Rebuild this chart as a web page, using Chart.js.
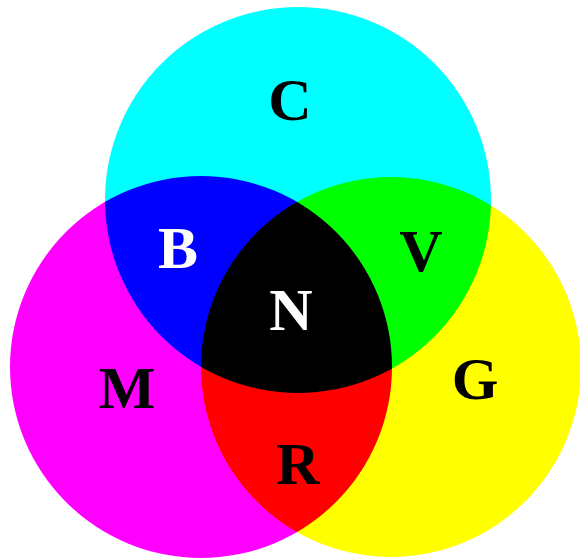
<!DOCTYPE html>
<html>
<head>
<meta charset="utf-8">
<script src="https://cdn.jsdelivr.net/npm/chart.js@4"></script>
<style>
html,body{margin:0;padding:0;background:#ffffff;}
#wrap{width:580px;height:560px;}
</style>
</head>
<body>
<div id="wrap"><canvas id="c" width="580" height="560"></canvas></div>
<script>
// Circle (primary subtractive colours) data
const circleNames = ['Cyan', 'Magenta', 'Yellow'];
const circleX = [298, 201, 391];
const circleY = [200, 367, 367];
const circleR = [193, 191, 190];
const circleColors = ['#00FFFF', '#FF00FF', '#FFFF00'];

// Region labels
const regionLabels = ['C', 'B', 'V', 'N', 'M', 'R', 'G'];
const regionX = [290, 178, 421, 291, 127, 298, 475];
const regionY = [100, 248, 251, 310, 388, 464, 379];
const regionTextColors = ['#000000', '#ffffff', '#000000', '#ffffff', '#000000', '#000000', '#000000'];

const datasets = circleNames.map((name, i) => ({
  label: name,
  data: [{x: circleX[i], y: circleY[i], r: circleR[i]}],
  backgroundColor: circleColors[i],
  borderWidth: 0,
  hoverBorderWidth: 0,
  hoverRadius: 0,
  clip: false
}));

const multiplyPlugin = {
  id: 'multiply',
  beforeDraw(chart) {
    const ctx = chart.ctx;
    ctx.save();
    ctx.fillStyle = '#ffffff';
    ctx.fillRect(0, 0, chart.width, chart.height);
    ctx.restore();
  },
  beforeDatasetsDraw(chart) {
    chart.ctx.save();
    chart.ctx.globalCompositeOperation = 'multiply';
  },
  afterDatasetsDraw(chart) {
    chart.ctx.restore();
    const ctx = chart.ctx;
    const xs = chart.scales.x, ys = chart.scales.y;
    ctx.save();
    ctx.font = 'bold 60px "Liberation Serif", "DejaVu Serif", serif';
    ctx.textAlign = 'center';
    ctx.textBaseline = 'alphabetic';
    regionLabels.forEach((t, i) => {
      ctx.fillStyle = regionTextColors[i];
      const px = xs.getPixelForValue(regionX[i]);
      const py = ys.getPixelForValue(regionY[i]);
      ctx.fillText(t, px, py + 20);
    });
    ctx.restore();
  }
};

new Chart(document.getElementById('c'), {
  type: 'bubble',
  data: { datasets },
  options: {
    responsive: false,
    animation: false,
    devicePixelRatio: 1,
    events: [],
    layout: { padding: 0, autoPadding: false },
    plugins: { legend: { display: false }, tooltip: { enabled: false } },
    scales: {
      x: { type: 'linear', min: 0, max: 580, display: false },
      y: { type: 'linear', min: 0, max: 560, reverse: true, display: false }
    }
  },
  plugins: [multiplyPlugin]
});
</script>
</body>
</html>
